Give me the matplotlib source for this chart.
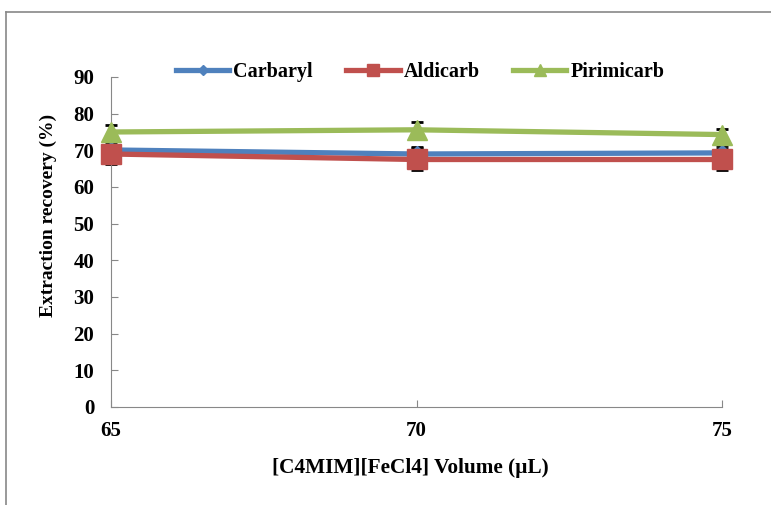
import matplotlib
matplotlib.use('Agg')
import matplotlib.pyplot as plt
from matplotlib.lines import Line2D

volumes = [65, 70, 75]
carbaryl = [70.1, 69.0, 69.3]
aldicarb = [69.0, 67.5, 67.5]
pirimicarb = [75.0, 75.6, 74.3]
carbaryl_err = [2.5, 2.0, 2.0]
aldicarb_err = [2.8, 3.0, 2.8]
pirimicarb_err = [2.0, 2.0, 1.5]

plt.rcParams['font.family'] = ['Liberation Serif', 'DejaVu Serif']
plt.rcParams['font.weight'] = 'bold'

fig = plt.figure(figsize=(7.71, 5.05), dpi=100)
ax = fig.add_axes([111 / 771, 98 / 505, 611 / 771, 330 / 505])

# Рамка слева и сверху (справа и снизу обрезана)
fig.lines.append(Line2D([6 / 771, 6 / 771], [0, 1 - 12 / 505], transform=fig.transFigure,
                        color='#888888', linewidth=1.2))
fig.lines.append(Line2D([6 / 771, 1], [1 - 12 / 505, 1 - 12 / 505], transform=fig.transFigure,
                        color='#888888', linewidth=1.2))

series = [
    (carbaryl, carbaryl_err, '#4f81bd', 'D', 8, 'Carbaryl'),
    (aldicarb, aldicarb_err, '#c0504d', 's', 14, 'Aldicarb'),
    (pirimicarb, pirimicarb_err, '#9bbb59', '^', 15, 'Pirimicarb'),
]
for vals, err, color, marker, ms, label in series:
    ax.errorbar(volumes, vals, yerr=err, fmt='none', ecolor='black', elinewidth=1.3,
                capsize=4, capthick=2, zorder=2, clip_on=False)
    ax.plot(volumes, vals, color=color, linewidth=3.8, marker=marker, markersize=ms,
            label=label, zorder=3, clip_on=False)

ax.set_xlim(65, 75)
ax.set_ylim(0, 90)
ax.set_xticks(volumes)
ax.set_yticks(range(0, 91, 10))
ax.spines['top'].set_visible(False)
ax.spines['right'].set_visible(False)
ax.spines['left'].set_color('#888888')
ax.spines['bottom'].set_color('#888888')
ax.tick_params(axis='both', direction='in', length=5, color='#888888', labelsize=15)
ax.tick_params(axis='x', pad=10)
ax.tick_params(axis='y', pad=12)
for lbl in ax.get_xticklabels() + ax.get_yticklabels():
    lbl.set_fontweight('bold')

ax.set_xlabel('[C4MIM][FeCl4] Volume (µL)', fontsize=15.3, fontweight='bold')
ax.xaxis.set_label_coords(0.49, -0.155)
ax.set_ylabel('Extraction recovery (%)', fontsize=14, fontweight='bold')
ax.yaxis.set_label_coords(-0.089, 0.58)

leg = ax.legend(loc='upper center', bbox_to_anchor=(0.506, 1.10), ncol=3, frameon=False,
                fontsize=14.5, handlelength=2.65, columnspacing=1.65, handletextpad=0.2,
                markerscale=0.6)

fig.savefig('out.png', dpi=100)
